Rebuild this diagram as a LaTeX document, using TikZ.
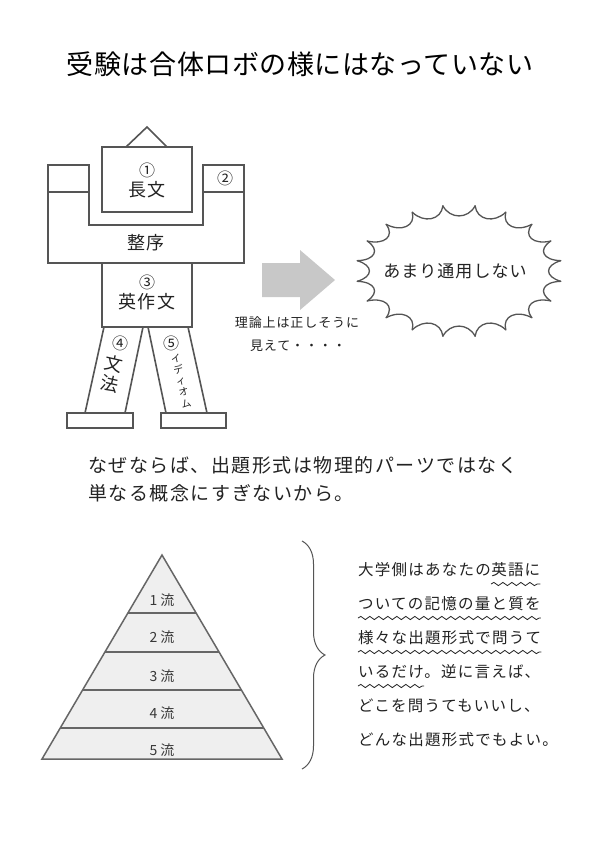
\documentclass[tikz,border=0pt]{standalone}
\usepackage{fontspec}
\setmainfont{Noto Sans CJK JP}
\usetikzlibrary{positioning,calc,decorations.pathmorphing,decorations.pathreplacing}
\definecolor{robogray}{HTML}{555555}
\definecolor{inkgray}{HTML}{222222}
\definecolor{arrowgray}{HTML}{C8C8C8}
\definecolor{layerfill}{HTML}{EFEFEF}
\tikzset{
    robo part/.style={
        draw=robogray,
        line width=1.6pt,
        fill=white,
        line join=miter
    },
    robo label/.style={font=\fontsize{18}{20}\selectfont\addfontfeature{LetterSpace=8}, text=inkgray, inner sep=0pt},
    robo num/.style={font=\fontsize{16}{16}\selectfont, text=inkgray, inner sep=0pt},
    title text/.style={font=\fontsize{27}{30}\selectfont\addfontfeature{LetterSpace=2}, text=black, inner sep=0pt},
    mid text/.style={font=\fontsize{19}{22}\selectfont\addfontfeature{LetterSpace=8}, text=inkgray, inner sep=0pt},
    side text/.style={font=\fontsize{15.5}{18}\selectfont\addfontfeature{LetterSpace=8}, text=inkgray, inner sep=0pt},
    small text/.style={font=\fontsize{13}{15}\selectfont\addfontfeature{LetterSpace=7}, text=inkgray, inner sep=0pt},
    burst line/.style={draw=robogray, line width=1.3pt, line cap=round},
    pyramid edge/.style={draw=robogray!90, line width=1.5pt, line join=miter},
    layer label/.style={font=\fontsize{14}{16}\selectfont, text=inkgray!90, inner sep=0pt},
    wave line/.style={draw=inkgray, line width=0.8pt, decorate, decoration={snake, amplitude=1.6pt, segment length=9pt}},
    brace line/.style={draw=robogray, line width=1pt, decorate, decoration={brace, amplitude=23pt}}
}
\begin{document}
\begin{tikzpicture}[x=1pt,y=-1pt]
\fill[white] (0,0) rectangle (600,849);
\useasboundingbox (0,0) rectangle (600,849);

% title
\node[title text] (title) at (300,64) {受験は合体ロボの様にはなっていない};

% robot: legs and feet
\draw[robo part] (104,327) -- (143,327) -- (125,413) -- (85,413) -- cycle;
\draw[robo part] (148,327) -- (188,327) -- (207,413) -- (166,413) -- cycle;
\draw[robo part] (67,413) rectangle (133,428);
\draw[robo part] (161,413) rectangle (226,428);
% robot: body, arms, head
\draw[robo part] (102,263) rectangle (192,327);
\draw[robo part] (48,165) -- (89,165) -- (89,225) -- (203,225) -- (203,165)
    -- (244,165) -- (244,263) -- (48,263) -- cycle;
\draw[robo part] (48,192) -- (89,192) (203,192) -- (244,192);
\draw[robo part] (126,147) -- (147,127) -- (167,147);
\draw[robo part] (102,147) rectangle (192,212);

\node[robo num] (n1) at (147,170) {①};
\node[robo label, below=4pt of n1] (long) {長文};
\node[robo num] (n2) at (225,178) {②};
\node[robo label] (order) at (146,243) {整序};
\node[robo num] (n3) at (147,282) {③};
\node[robo label, below=4pt of n3] (comp) {英作文};
\node[robo num] (n4) at (120,343) {④};
\node[robo label, align=center, rotate=-13] (gram) at (112,374) {文\\法};
\node[robo num] (n5) at (171,343) {⑤};
\node[font=\fontsize{10}{11.5}\selectfont, text=inkgray, inner sep=0pt,
      align=center, rotate=13] (idiom) at (181,381) {イ\\デ\\ィ\\オ\\ム};

% gray block arrow
\fill[arrowgray] (262,263) -- (300,263) -- (300,250) -- (335,280)
    -- (300,310) -- (300,297) -- (262,297) -- cycle;
\node[small text] (seem1) at (297,323) {理論上は正しそうに};
\node[small text] (seem2) at (298,346) {見えて・・・・};

% burst
\coordinate (burst) at (459,271);
\foreach \i in {0,...,19}{
    \pgfmathsetmacro\a{9+\i*18}
    \pgfmathsetmacro\b{\a+18}
    \draw[burst line] ($(burst)+(\a:103 and 66)$)
        .. controls ($(burst)+(\a+3:86 and 52)$) and ($(burst)+(\b-3:86 and 52)$)
        .. ($(burst)+(\b:103 and 66)$);
}
\node[font=\fontsize{17}{20}\selectfont\addfontfeature{LetterSpace=6}, text=inkgray, inner sep=0pt]
    (fail) at (455,271) {あまり通用しない};

% reason
\node[mid text, anchor=west] (why1) at (88,465) {なぜならば、出題形式は物理的パーツではなく};
\node[mid text, below=28pt of why1.west, anchor=west] (why2) {単なる概念にすぎないから。};

% pyramid
\coordinate (apex) at (162,555);
\filldraw[pyramid edge, fill=layerfill] (apex) -- (42,759) -- (282,759) -- cycle;
\foreach \y in {613,652,690,728}{
    \pgfmathsetmacro\hw{(\y-555)/204*120}
    \draw[pyramid edge] (162-\hw,\y) -- (162+\hw,\y);
}
\foreach \n/\y in {1/600,2/637,3/676,4/713,5/750}
    \node[layer label] (lv\n) at (162,\y) {\n\ 流};

% brace
\draw[brace line] (302,541) -- (302,769);

% explanation
\node[side text, anchor=west] (t1a) at (358,570) {大学側はあなたの};
\node[side text, right=0pt of t1a] (t1b) {英語に};
\node[side text, below=34pt of t1a.west, anchor=west] (t2) {ついての記憶の量と質を};
\node[side text, below=34pt of t2.west, anchor=west] (t3) {様々な出題形式で問うて};
\node[side text, below=34pt of t3.west, anchor=west] (t4a) {いるだけ};
\node[side text, right=0pt of t4a] (t4b) {。逆に言えば、};
\node[side text, below=34pt of t4a.west, anchor=west] (t5) {どこを問うてもいいし、};
\node[side text, below=34pt of t5.west, anchor=west] (t6) {どんな出題形式でもよい。};

\draw[wave line] ($(t1b.west)+(0,14)$) -- ($(t1b.east)+(0,14)$);
\draw[wave line] ($(t2.west)+(0,14)$) -- ($(t2.east)+(0,14)$);
\draw[wave line] ($(t3.west)+(0,14)$) -- ($(t3.east)+(0,14)$);
\draw[wave line] ($(t4a.west)+(0,14)$) -- ($(t4a.east)+(0,14)$);

\end{tikzpicture}
\end{document}
